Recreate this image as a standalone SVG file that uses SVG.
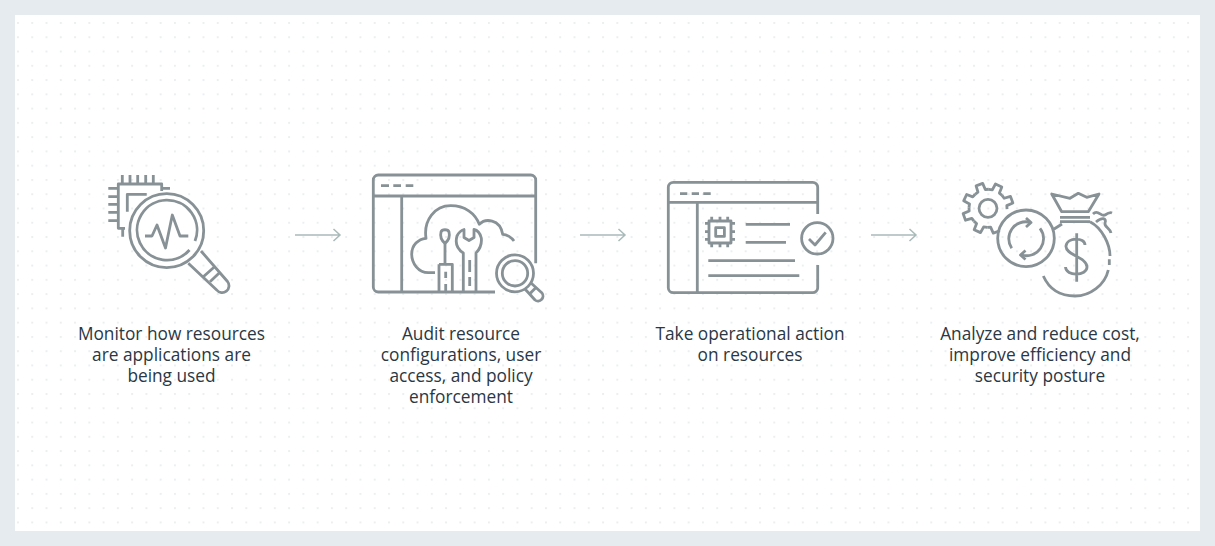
<svg xmlns="http://www.w3.org/2000/svg" width="1215" height="546" viewBox="0 0 1215 546">
<style>
.i{fill:none;stroke:#879196;stroke-width:2.8;stroke-linejoin:round}
.t{font-family:"Open Sans","Liberation Sans",sans-serif;font-size:17.3px;fill:#2a3744;text-anchor:middle}
.a{fill:none;stroke:#a9bbb9;stroke-width:1.5}
</style>
<defs>
<pattern id="dots" patternUnits="userSpaceOnUse" x="17" y="22" width="14.27" height="14.27"><rect width="2" height="2" fill="#eceef0"/></pattern>
<path id="tooth" d="M-7.300-17.600L-3.900-18.600L-3.500-25.200H3.500L3.900-18.600L7.300-17.600"/>
</defs>
<rect width="1215" height="546" fill="#e6ebef"/>
<rect x="15" y="15" width="1185" height="516" fill="#fff"/>
<rect x="15" y="15" width="1185" height="516" fill="url(#dots)"/>

<g id="connectors">
<path class="a" d="M295 235H340M333.500 229L340 235L333.500 241"/>
<path class="a" d="M580 235H625M618.500 229L625 235L618.500 241"/>
<path class="a" d="M871 235H916M909.500 229L916 235L909.500 241"/>
</g>

<g id="node-monitor">
<g class="i">
<path d="M122.300 175V184M130 175V184M137.700 175V184M145.700 175V184M153.300 175V184M108.300 188.300H118M108.300 196.700H118M108.300 204.300H118M108.300 212.300H118M108.300 220.700H118"/>
<path d="M161.700 191V184H118.300V228.300H125M161.700 188.300H170M122.700 228V236.700M127.300 211.700V194.300H146.700"/>
<circle cx="166.700" cy="230.700" r="37" fill="#fff"/>
<path d="M195 241A30 30 0 1 0 189.500 250"/>
<path d="M145 236H152L157 225L165.500 248L172.300 215L180 236H188.300"/>
<path d="M188.300 263.300L216.700 290A6.500 6.500 0 0 0 227.500 281.500L201 251"/>
<path d="M203.300 276.700L214 267.300M210 281.700L220 272.300"/>
</g>
<text class="t" x="171.500" y="340">Monitor how resources</text>
<text class="t" x="171.500" y="361">are applications are</text>
<text class="t" x="171.500" y="382">being used</text>
</g>

<g id="node-audit">
<g class="i">
<path d="M495 292H378.300A5 5 0 0 1 373.300 287V180A5 5 0 0 1 378.300 175H530.700A5 5 0 0 1 535.700 180V263.300M373.300 196H535.700M401.700 196V292"/>
<path d="M381 185.700H389M393.300 185.700H401M405.700 185.700H413.300"/>
<path d="M435 272.700H428.300C418.300 272.700 411.700 263.300 411.700 254.300C411.700 245 418.300 239 426 238.300C423.300 220 435 205.700 450.700 205.700C465 205.700 475 213.300 479.300 224.300C485 218.300 500 218.300 502.700 234.300C506.700 234.300 511.700 237.700 514 241"/>
<path d="M445 243.300V264.300M439 264.300H452.300V292M439 264.300V292M445.700 271.700V278M445.700 284V292"/>
<path d="M445 243.300C441 240 440 236 441 232C442 229 448 229 449 232C450 236 449 240 445 243.300Z"/>
<path d="M463.300 292V253C457 249 455 243 457 236C459 232 462 230 464 229.500V237.500L469 240.500L474 237.500V229.500C477 230 480 233 481.300 238C482 244 480 249 476 253V292"/>
<path d="M469.700 260V272M469.700 277V286"/>
<circle cx="515" cy="273.300" r="18.500"/>
<circle cx="515" cy="273.300" r="12.700"/>
<path d="M525 289L535 300A5 5 0 0 0 542 293L531 283"/>
<path d="M529.500 294L536 287.500"/>
</g>
<text class="t" x="461" y="340">Audit resource</text>
<text class="t" x="461" y="361">configurations, user</text>
<text class="t" x="461" y="382">access, and policy</text>
<text class="t" x="461" y="403">enforcement</text>
</g>

<g id="node-action">
<g class="i">
<path d="M817.700 214V187.300A5 5 0 0 0 812.700 182.300H673.300A5 5 0 0 0 668.300 187.300V287.700A5 5 0 0 0 673.300 292.700H812.700A5 5 0 0 0 817.700 287.700V265M668.300 202.300H817.700M697.300 202.300V292.700"/>
<path d="M680 193.700H687.300M691.700 193.700H699M703.300 193.700H710.700"/>
<rect x="709" y="221" width="22" height="22"/>
<rect x="715.700" y="227.700" width="8.700" height="8.700"/>
<path d="M711.700 216.700V221M720 216.700V221M727.700 216.700V221M711.700 243V247.300M720 243V247.300M727.700 243V247.300M705 223.300H709M705 231.700H709M705 239.300H709M731 223.300H735M731 231.700H735M731 239.300H735"/>
<path d="M745.700 224.300H790M745.700 242.300H786M708.300 260.700H795M708.300 275.700H799.300"/>
<circle cx="817.300" cy="238.300" r="15.700"/>
<path d="M809 239L815 245L825.700 232.300"/>
</g>
<text class="t" x="750" y="340">Take operational action</text>
<text class="t" x="750" y="361">on resources</text>
</g>

<g id="node-cost">
<g class="i">
<circle cx="988" cy="208.300" r="9"/>
<g transform="translate(988 208.300)">
<use href="#tooth" transform="rotate(25)"/><use href="#tooth" transform="rotate(70)"/><use href="#tooth" transform="rotate(205)"/><use href="#tooth" transform="rotate(250)"/><use href="#tooth" transform="rotate(295)"/><use href="#tooth" transform="rotate(340)"/>
<path d="M-0.800 19L2.600 18.800L5.300 24.800L11.900 22.400"/>
</g>
<circle cx="1026" cy="238.300" r="28.300"/>
<path d="M1011.700 248.300A17 17 0 0 1 1030 222.300M1040 228.300A17 17 0 0 1 1021.700 255"/>
<path d="M1026 218L1031 222.500L1026 227M1025.500 250.500L1020.500 255L1025.500 259.500"/>
<path d="M1051.700 194L1061.700 211.700H1088.300L1099 194L1086.700 197.300L1078.300 193.300L1070 198.300Z"/>
<path d="M1060 217.300H1090M1060 221.700H1090M1062 224L1053.700 229.300"/>
<path d="M1090 221.700C1102 228 1110 244 1110 256M1109.300 259.300V265M1108.300 270C1105 285 1090 296 1075 296C1062 296 1050 291 1043.300 276"/>
<path d="M1093 214C1098 209 1101 217 1105 215C1108 213 1110 212 1112 213M1096 222C1102 217 1107 218 1105 223C1104 227 1110 228 1111 233"/>
<path d="M1076.700 233.300V281.700M1085 245C1085 237 1067 237 1066 246C1065 255 1087 257 1087 267C1087 276 1066 277 1065.500 267"/>
</g>
<text class="t" x="1040" y="340">Analyze and reduce cost,</text>
<text class="t" x="1040" y="361">improve efficiency and</text>
<text class="t" x="1040" y="382">security posture</text>
</g>
</svg>
